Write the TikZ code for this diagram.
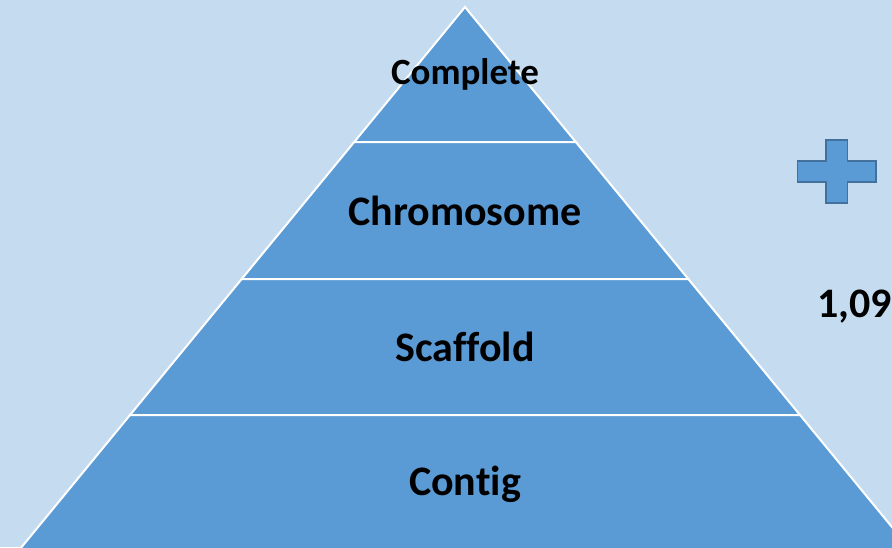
\documentclass[tikz,border=0pt]{standalone}
\usepackage{fontspec}
\setmainfont{Carlito}[Ligatures={NoCommon}]
\definecolor{bg}{HTML}{C5DCF0}
\definecolor{band}{HTML}{5B9BD5}
\definecolor{bandline}{HTML}{41719C}
\tikzset{
  bandshape/.style={fill=band, draw=white, line width=2pt, line join=miter},
  bandlabel/.style={font=\bfseries\fontsize{42}{50}\selectfont, text=black, inner sep=0pt},
  toplabel/.style={font=\bfseries\fontsize{37}{44}\selectfont, text=black, inner sep=0pt},
  plusshape/.style={fill=band, draw=bandline, line width=1.5pt, line join=miter}
}
\begin{document}
\begin{tikzpicture}[x=1pt,y=-1pt]
\useasboundingbox (0,0) rectangle (892,547);
\clip (0,0) rectangle (892,547);
\fill[bg] (0,0) rectangle (892,547);
% pyramid bands (apex at 465,7; half-width = 0.821*(y-7))
\draw[bandshape] (465,7) -- (575.8,142) -- (354.2,142) -- cycle;
\draw[bandshape] (354.2,142) -- (575.8,142) -- (688.3,279) -- (241.7,279) -- cycle;
\draw[bandshape] (241.7,279) -- (688.3,279) -- (800,415) -- (130,415) -- cycle;
\draw[bandshape] (130,415) -- (800,415) -- (919,560) -- (11,560) -- cycle;
% labels
\node[toplabel] (complete) at (465,74) {Complete};
\node[bandlabel] (chromosome) at (465,211) {Chromosome};
\node[bandlabel] (scaffold) at (465,347) {Scaffold};
\node[bandlabel] (contig) at (465,484) {Contig};
\node[bandlabel, anchor=west] (value) at (817,307) {1,09};
% plus sign
\draw[plusshape] (826,140) -- (847.5,140) -- (847.5,161) -- (876,161) -- (876,182) -- (847.5,182) -- (847.5,203) -- (826,203) -- (826,182) -- (797.5,182) -- (797.5,161) -- (826,161) -- cycle;
\end{tikzpicture}
\end{document}
